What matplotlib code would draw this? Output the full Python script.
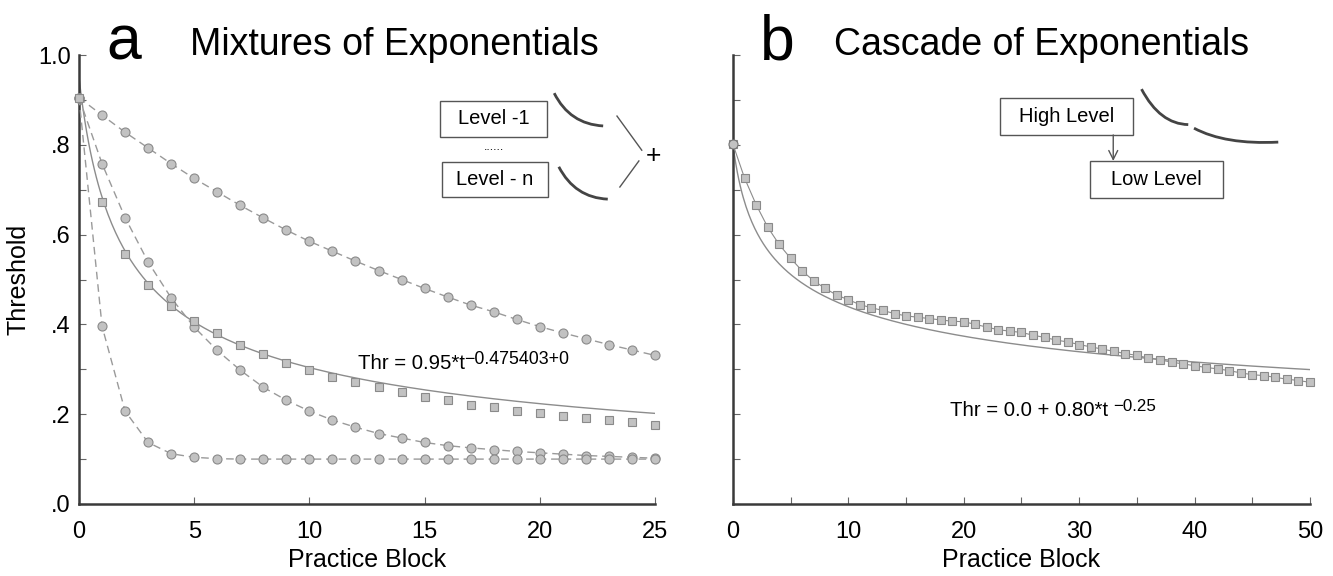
import numpy as np
import matplotlib
matplotlib.use("Agg")
import matplotlib.pyplot as plt
from matplotlib.path import Path
from matplotlib.patches import PathPatch, Rectangle

plt.rcParams['font.family'] = ['Liberation Sans', 'DejaVu Sans']

# panel a: three exponentials (circles) and their mean (squares)
blocks_a = list(range(26))
slow = [0.905, 0.866, 0.828, 0.793, 0.758, 0.725, 0.695, 0.665, 0.637, 0.610,
        0.585, 0.563, 0.541, 0.520, 0.500, 0.480, 0.461, 0.443, 0.428, 0.411,
        0.395, 0.381, 0.368, 0.355, 0.343, 0.331]
medium = [0.905, 0.758, 0.638, 0.539, 0.459, 0.394, 0.342, 0.298, 0.260, 0.231,
          0.207, 0.187, 0.171, 0.157, 0.147, 0.137, 0.130, 0.125, 0.121, 0.117,
          0.114, 0.111, 0.108, 0.106, 0.104, 0.102]
fast = [0.905, 0.396, 0.207, 0.137, 0.112, 0.104, 0.101, 0.100, 0.100, 0.100,
        0.100, 0.100, 0.100, 0.100, 0.100, 0.100, 0.100, 0.100, 0.100, 0.100,
        0.100, 0.100, 0.100, 0.100, 0.100, 0.100]
mixture = [0.905, 0.672, 0.557, 0.488, 0.442, 0.408, 0.380, 0.354, 0.333, 0.313,
           0.298, 0.282, 0.271, 0.260, 0.249, 0.239, 0.231, 0.221, 0.215, 0.208,
           0.202, 0.196, 0.191, 0.187, 0.182, 0.176]
fit_a = (0.95, -0.475403)   # Thr = 0.95*t^-0.475403

# panel b: cascade
blocks_b = list(range(51))
cascade = [0.801, 0.726, 0.667, 0.617, 0.578, 0.547, 0.519, 0.497, 0.480, 0.465,
           0.455, 0.444, 0.437, 0.431, 0.424, 0.419, 0.416, 0.413, 0.410, 0.407,
           0.406, 0.400, 0.394, 0.388, 0.385, 0.382, 0.376, 0.371, 0.365, 0.361,
           0.355, 0.350, 0.345, 0.340, 0.335, 0.331, 0.325, 0.321, 0.316, 0.312,
           0.308, 0.304, 0.301, 0.297, 0.292, 0.288, 0.286, 0.282, 0.278, 0.275,
           0.271]
fit_b = (0.80, -0.25)       # Thr = 0.0 + 0.80*t^-0.25

y_ticks = [0, 0.2, 0.4, 0.6, 0.8, 1.0]
y_labels = ['.0', '.2', '.4', '.6', '.8', '1.0']

W, H = 1333, 576
fig = plt.figure(figsize=(W / 100, H / 100), dpi=100)
ax1 = fig.add_axes([79 / W, 72 / H, 576 / W, 449 / H])
ax2 = fig.add_axes([733 / W, 72 / H, 577 / W, 449 / H])

face = '#c2c2c2'
edge = '#8a8a8a'
spine_c = '#3a3a3a'

for ax in (ax1, ax2):
    for s in ('top', 'right'):
        ax.spines[s].set_visible(False)
    for s in ('left', 'bottom'):
        ax.spines[s].set_color(spine_c)
        ax.spines[s].set_linewidth(1.8)
    ax.set_ylim(0, 1.0)
    ax.set_yticks(y_ticks)
    ax.set_yticks([0.1, 0.3, 0.5, 0.7, 0.9], minor=True)
    ax.tick_params(direction='in', length=5, width=0.8, colors='#666666',
                   labelcolor='black', labelsize=17)
    ax.tick_params(which='minor', direction='in', length=5, width=0.8,
                   colors='#666666')
    ax.tick_params(axis='x', pad=12)
    ax.tick_params(axis='y', pad=6)
    ax.set_xlabel('Practice Block', fontsize=18)
    ax.xaxis.set_label_coords(0.5, -0.098)

ax1.set_yticklabels(y_labels)
ax1.set_ylabel('Threshold', fontsize=18)
ax1.yaxis.set_label_coords(-0.084, 0.5)
ax2.set_yticklabels([])

# panel a
ax1.set_xlim(0, 25)
ax1.set_xticks([0, 5, 10, 15, 20, 25])
for series in (slow, medium, fast):
    ax1.plot(blocks_a, series, color='#9a9a9a', lw=1.0, dashes=(5.5, 3.5),
             marker='o', ms=6.5, mfc=face, mec=edge, mew=0.8, clip_on=False,
             zorder=3)
ax1.plot(blocks_a, mixture, ls='none', marker='s', ms=5.5, mfc=face,
         mec=edge, mew=0.8, clip_on=False, zorder=3)
ta = np.linspace(0, 25, 300)
ax1.plot(ta, fit_a[0] * (ta + 1) ** fit_a[1], color='#8c8c8c', lw=1.0,
         zorder=2)
eq_a = ax1.text(12.09, 0.30, 'Thr = 0.95*t', fontsize=14.7, va='baseline')
ax1.annotate('\u22120.475403+0', xy=(1, 0.5), xycoords=eq_a,
             xytext=(0, 0), textcoords='offset points', fontsize=12.8,
             va='baseline')

# panel b
ax2.set_xlim(0, 50)
ax2.set_xticks(list(range(0, 51, 5)))
ax2.set_xticklabels([str(v) if v % 10 == 0 else '' for v in range(0, 51, 5)])
tb = np.linspace(0, 50, 400)
ax2.plot(tb, fit_b[0] * (tb + 1) ** fit_b[1], color='#8c8c8c', lw=1.0,
         zorder=2)
ax2.plot(blocks_b, cascade, color='#8c8c8c', lw=0.8, marker='s', ms=5.5,
         mfc=face, mec=edge, mew=0.8, clip_on=False, zorder=3)
ax2.plot(blocks_b[:1], cascade[:1], ls='none', marker='o', ms=6.5, mfc=face,
         mec='#777777', mew=0.8, clip_on=False, zorder=4)
eq_b = ax2.text(18.78, 0.195, 'Thr = 0.0 + 0.80*t', fontsize=14.7,
                va='baseline')
ax2.annotate('\u22120.25', xy=(1, 0.5), xycoords=eq_b,
             xytext=(4, 0), textcoords='offset points', fontsize=12.2,
             va='baseline')

# titles
fig.text(106 / W, 1 - 60 / H, 'a', fontsize=45, va='baseline')
fig.text(190 / W, 1 - 55 / H, 'Mixtures of Exponentials', fontsize=27,
         va='baseline')
fig.text(760 / W, 1 - 60 / H, 'b', fontsize=45, va='baseline')
fig.text(834 / W, 1 - 55 / H, 'Cascade of Exponentials', fontsize=27,
         va='baseline')


def box(ax, x0, y0, x1, y1, label):
    ax.add_patch(Rectangle((x0, y0), x1 - x0, y1 - y0, transform=ax.transAxes,
                           fill=False, ec='#555555', lw=1.0, clip_on=False))
    ax.text((x0 + x1) / 2, (y0 + y1) / 2, label, transform=ax.transAxes,
            ha='center', va='center', fontsize=14.5)


def curve(ax, p0, c, p1):
    path = Path([p0, c, p1], [Path.MOVETO, Path.CURVE3, Path.CURVE3])
    ax.add_patch(PathPatch(path, transform=ax.transAxes, fill=False,
                           ec='#444444', lw=2.0, clip_on=False))


# inset a
box(ax1, 0.627, 0.817, 0.8125, 0.898, 'Level -1')
box(ax1, 0.630, 0.684, 0.814, 0.762, 'Level - n')
ax1.text(0.720, 0.795, '......', transform=ax1.transAxes, ha='center',
         va='center', fontsize=9)
curve(ax1, (0.825, 0.915), (0.852, 0.846), (0.910, 0.842))
curve(ax1, (0.833, 0.751), (0.861, 0.682), (0.918, 0.679))
ax1.plot([0.934, 0.977], [0.864, 0.788], transform=ax1.transAxes,
         color='#555555', lw=1.0, clip_on=False)
ax1.plot([0.939, 0.972], [0.706, 0.764], transform=ax1.transAxes,
         color='#555555', lw=1.0, clip_on=False)
ax1.text(0.998, 0.775, '+', transform=ax1.transAxes, ha='center',
         va='center', fontsize=19)

# inset b
box(ax2, 0.463, 0.822, 0.693, 0.904, 'High Level')
box(ax2, 0.619, 0.682, 0.849, 0.764, 'Low Level')
ax2.annotate('', xy=(0.659, 0.764), xytext=(0.659, 0.822),
             xycoords='axes fraction',
             arrowprops=dict(arrowstyle='->', color='#555555', lw=1.0,
                             shrinkA=0, shrinkB=0, mutation_scale=16))
curve(ax2, (0.708, 0.924), (0.740, 0.846), (0.789, 0.845))
curve(ax2, (0.799, 0.837), (0.853, 0.800), (0.945, 0.806))

fig.savefig('out.png', dpi=100)
